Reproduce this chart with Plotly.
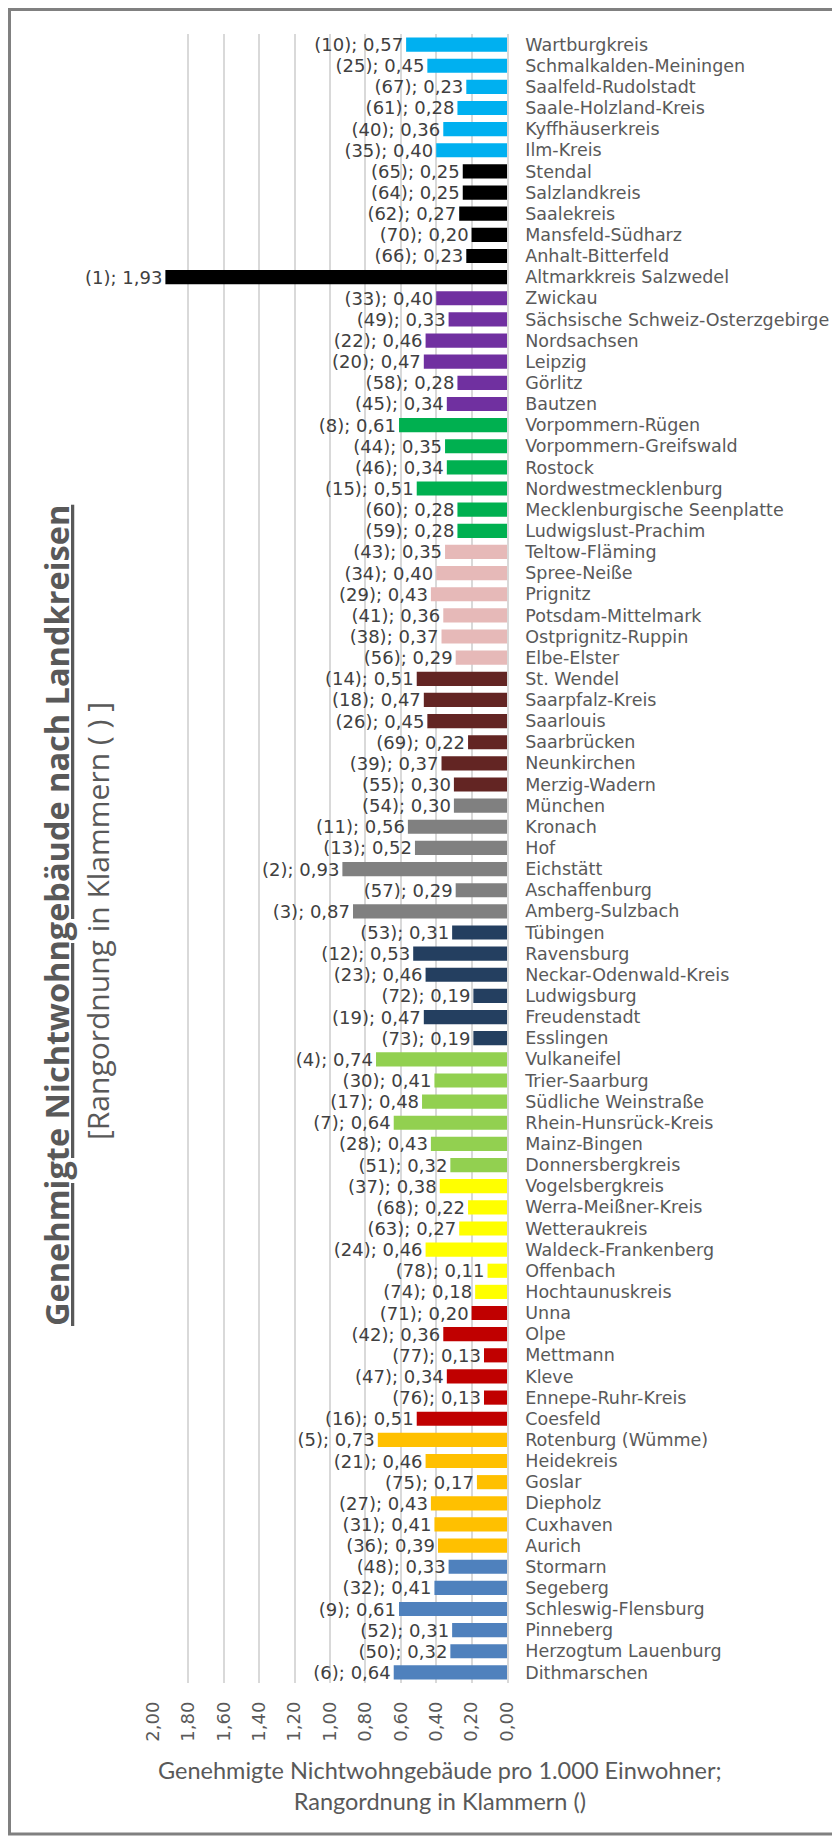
import plotly.graph_objects as go

# ---------------- data (top to bottom) ----------------
kreise = [
    "Wartburgkreis", "Schmalkalden-Meiningen", "Saalfeld-Rudolstadt", "Saale-Holzland-Kreis", "Kyffhäuserkreis", "Ilm-Kreis",
    "Stendal", "Salzlandkreis", "Saalekreis", "Mansfeld-Südharz", "Anhalt-Bitterfeld", "Altmarkkreis Salzwedel",
    "Zwickau", "Sächsische Schweiz-Osterzgebirge", "Nordsachsen", "Leipzig", "Görlitz", "Bautzen",
    "Vorpommern-Rügen", "Vorpommern-Greifswald", "Rostock", "Nordwestmecklenburg", "Mecklenburgische Seenplatte", "Ludwigslust-Prachim",
    "Teltow-Fläming", "Spree-Neiße", "Prignitz", "Potsdam-Mittelmark", "Ostprignitz-Ruppin", "Elbe-Elster",
    "St. Wendel", "Saarpfalz-Kreis", "Saarlouis", "Saarbrücken", "Neunkirchen", "Merzig-Wadern",
    "München", "Kronach", "Hof", "Eichstätt", "Aschaffenburg", "Amberg-Sulzbach",
    "Tübingen", "Ravensburg", "Neckar-Odenwald-Kreis", "Ludwigsburg", "Freudenstadt", "Esslingen",
    "Vulkaneifel", "Trier-Saarburg", "Südliche Weinstraße", "Rhein-Hunsrück-Kreis", "Mainz-Bingen", "Donnersbergkreis",
    "Vogelsbergkreis", "Werra-Meißner-Kreis", "Wetteraukreis", "Waldeck-Frankenberg", "Offenbach", "Hochtaunuskreis",
    "Unna", "Olpe", "Mettmann", "Kleve", "Ennepe-Ruhr-Kreis", "Coesfeld",
    "Rotenburg (Wümme)", "Heidekreis", "Goslar", "Diepholz", "Cuxhaven", "Aurich",
    "Stormarn", "Segeberg", "Schleswig-Flensburg", "Pinneberg", "Herzogtum Lauenburg", "Dithmarschen",
]

werte = [
    0.57, 0.45, 0.23, 0.28, 0.36, 0.40,
    0.25, 0.25, 0.27, 0.20, 0.23, 1.93,
    0.40, 0.33, 0.46, 0.47, 0.28, 0.34,
    0.61, 0.35, 0.34, 0.51, 0.28, 0.28,
    0.35, 0.40, 0.43, 0.36, 0.37, 0.29,
    0.51, 0.47, 0.45, 0.22, 0.37, 0.30,
    0.30, 0.56, 0.52, 0.93, 0.29, 0.87,
    0.31, 0.53, 0.46, 0.19, 0.47, 0.19,
    0.74, 0.41, 0.48, 0.64, 0.43, 0.32,
    0.38, 0.22, 0.27, 0.46, 0.11, 0.18,
    0.20, 0.36, 0.13, 0.34, 0.13, 0.51,
    0.73, 0.46, 0.17, 0.43, 0.41, 0.39,
    0.33, 0.41, 0.61, 0.31, 0.32, 0.64,
]

raenge = [
    10, 25, 67, 61, 40, 35,
    65, 64, 62, 70, 66, 1,
    33, 49, 22, 20, 58, 45,
    8, 44, 46, 15, 60, 59,
    43, 34, 29, 41, 38, 56,
    14, 18, 26, 69, 39, 55,
    54, 11, 13, 2, 57, 3,
    53, 12, 23, 72, 19, 73,
    4, 30, 17, 7, 28, 51,
    37, 68, 63, 24, 78, 74,
    71, 42, 77, 47, 76, 16,
    5, 21, 75, 27, 31, 36,
    48, 32, 9, 52, 50, 6,
]

# colour of each Bundesland group (6 Kreise each)
gruppen_farben = [
    "#00B0F0",  # Thüringen
    "#000000",  # Sachsen-Anhalt
    "#7030A0",  # Sachsen
    "#00B050",  # Mecklenburg-Vorpommern
    "#E6B9B8",  # Brandenburg
    "#632523",  # Saarland
    "#808080",  # Bayern
    "#243F60",  # Baden-Württemberg
    "#92D050",  # Rheinland-Pfalz
    "#FFFF00",  # Hessen
    "#C00000",  # Nordrhein-Westfalen
    "#FFC000",  # Niedersachsen
    "#4F81BD",  # Schleswig-Holstein
]
gruppen_groesse = 6

tick_werte = [0.0, 0.2, 0.4, 0.6, 0.8, 1.0, 1.2, 1.4, 1.6, 1.8, 2.0]
tick_texte = ["0,00", "0,20", "0,40", "0,60", "0,80", "1,00", "1,20", "1,40", "1,60", "1,80", "2,00"]

# ---------------- derived ----------------
farben = [gruppen_farben[i // gruppen_groesse] for i in range(len(kreise))]
labels = ["(%d); %s" % (r, ("%.2f" % v).replace(".", ",")) for r, v in zip(raenge, werte)]

# page has an 8px body margin -> figure is 832x1830, page coords = figure coords + 8
OFF = 8
W, H = 832, 1830
L, R, T, B = 145, 333, 26, 155
PW, PH = W - L - R, H - T - B


def px(xpage):
    return (xpage - OFF - L) / PW


def py(ypage):
    return (H - B - (ypage - OFF)) / PH


TXT = "#595959"
FONT = "DejaVu Sans"

fig = go.Figure(
    go.Bar(
        x=werte,
        y=kreise,
        orientation="h",
        marker=dict(color=farben, line=dict(width=0)),
        text=labels,
        textposition="outside",
        constraintext="none",
        cliponaxis=False,
        textfont=dict(family=FONT, size=18, color="#404040"),
        hoverinfo="skip",
    )
)

fig.update_layout(
    width=W,
    height=H,
    margin=dict(l=L, r=R, t=T, b=B, autoexpand=False),
    paper_bgcolor="white",
    plot_bgcolor="white",
    bargap=0.33,
    showlegend=False,
    font=dict(family=FONT, color=TXT),
    xaxis=dict(
        range=[2.0, 0.0],
        automargin=False,
        tickvals=tick_werte,
        ticktext=tick_texte,
        tickangle=-90,
        tickfont=dict(family=FONT, size=18, color=TXT),
        showgrid=True,
        gridcolor="#D9D9D9",
        gridwidth=1.5,
        zeroline=False,
        showline=False,
        ticks="",
        ticklabelstandoff=14,
    ),
    yaxis=dict(
        type="category",
        automargin=False,
        autorange="reversed",
        side="right",
        tickmode="array",
        tickvals=kreise,
        ticktext=kreise,
        showline=True,
        linecolor="#D9D9D9",
        linewidth=1.5,
        showgrid=False,
        ticks="",
        tickfont=dict(family=FONT, size=17.5, color=TXT),
        ticklabelstandoff=13,
    ),
    annotations=[
        dict(
            text="<b><u>Genehmigte Nichtwohngebäude nach Landkreisen</u></b>",
            xref="paper", yref="paper", x=px(56), y=py(916),
            xanchor="center", yanchor="middle", textangle=-90, showarrow=False,
            font=dict(family="Open Sans", size=32.5, color=TXT),
        ),
        dict(
            text="[Rangordnung in Klammern ( ) ]",
            xref="paper", yref="paper", x=px(97), y=py(921),
            xanchor="center", yanchor="middle", textangle=-90, showarrow=False,
            font=dict(family="Open Sans", size=30, color=TXT),
        ),
        dict(
            text="Genehmigte Nichtwohngebäude pro 1.000 Einwohner;<br>Rangordnung in Klammern ()",
            xref="paper", yref="paper", x=px(440), y=py(1785),
            xanchor="center", yanchor="middle", showarrow=False,
            font=dict(family="Lato", size=23.5, color=TXT),
        ),
    ],
    shapes=[
        dict(
            type="rect", xref="paper", yref="paper",
            x0=px(9.5), x1=px(837), y0=py(1834), y1=py(9.5),
            line=dict(color="#808080", width=3), fillcolor="rgba(0,0,0,0)",
            layer="above",
        )
    ],
)

fig.write_html("out.html")
